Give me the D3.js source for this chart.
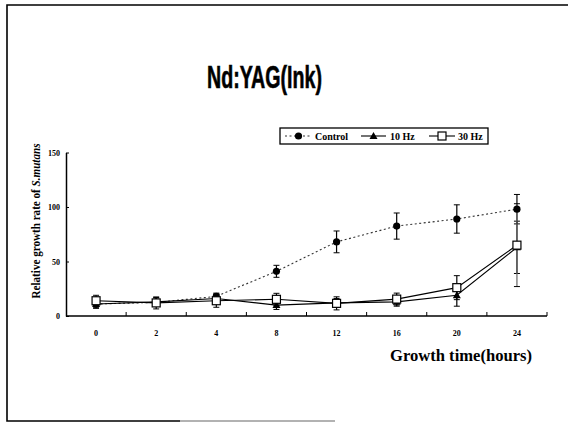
<!DOCTYPE html>
<html>
<head>
<meta charset="utf-8">
<script src="https://cdn.jsdelivr.net/npm/d3@7"></script>
<style>
  html, body { margin: 0; padding: 0; background: #fff; }
  svg { display: block; }
</style>
</head>
<body>
<svg id="chart" width="568" height="423"></svg>
<script>
// Sampling times (hours) along the x axis
const hours = ["0", "2", "4", "8", "12", "16", "20", "24"];
const yTicks = [0, 50, 100, 150];

// Relative growth rate of S. mutans, mean and error per time point
const control    = [11, 12.5, 18, 41, 68, 82.5, 89, 98];
const controlErr = [3, 3, 3, 5.5, 10, 12, 13, 13.5];
const hz10       = [11, 13, 16, 10, 12, 13, 19, 63];
const hz10Err    = [4, 4, 4, 4, 4, 4, 10, 24];
const hz30       = [14, 12, 14, 15.3, 11.6, 15.5, 26, 65];
const hz30Err    = [5, 5.5, 6, 5.5, 6, 5.5, 11, 38];

const seriesNames = ["Control", "10 Hz", "30 Hz"];

const svg = d3.select("#chart");
const serif = "'Liberation Serif', 'Times New Roman', serif";

// Page frame
svg.append("path")
  .attr("d", "M568,5 H7 V421 H180")
  .attr("fill", "none").attr("stroke", "#000").attr("stroke-width", 1.6);
svg.append("line")
  .attr("x1", 180).attr("x2", 335).attr("y1", 421).attr("y2", 421)
  .attr("stroke", "#999").attr("stroke-width", 1.4);

// Title, condensed to a fixed width
const title = svg.append("text")
  .attr("x", 0).attr("y", 0)
  .attr("font-family", "'Liberation Sans Narrow', 'Liberation Sans', Arial, sans-serif")
  .attr("font-weight", "bold").attr("font-size", 31)
  .attr("stroke", "#000").attr("stroke-width", 0.6)
  .text("Nd:YAG(Ink)");
const tw = title.node().getComputedTextLength();
title.attr("transform", `translate(207,88) scale(${115 / tw},1)`);

// Scales
const x = d3.scaleBand().domain(hours).range([66, 547]);
const y = d3.scaleLinear().domain([0, 150]).range([316, 152.5]);
const cx = h => x(h) + x.bandwidth() / 2;

// Y axis
const yAxis = svg.append("g")
  .attr("transform", "translate(66,0)")
  .call(d3.axisLeft(y).tickValues(yTicks).tickSizeInner(-3).tickSizeOuter(0).tickPadding(6));
yAxis.select(".domain").attr("stroke-width", 1.5);
yAxis.selectAll("text")
  .attr("font-family", serif).attr("font-weight", "bold").attr("font-size", 8);

// X axis: ticks at band boundaries pointing into the plot
const xAxisG = svg.append("g").attr("transform", "translate(0,316)");
xAxisG.append("line")
  .attr("x1", 66).attr("x2", 547).attr("y1", 0).attr("y2", 0)
  .attr("stroke", "#000").attr("stroke-width", 1.5);
const bounds = hours.slice(1).map(h => x(h)).concat([547]);
xAxisG.selectAll("line.tk").data(bounds).join("line")
  .attr("class", "tk")
  .attr("x1", d => d).attr("x2", d => d).attr("y1", 0).attr("y2", -4)
  .attr("stroke", "#000").attr("stroke-width", 1);
xAxisG.selectAll("text").data(hours).join("text")
  .attr("x", d => cx(d)).attr("y", 20)
  .attr("text-anchor", "middle")
  .attr("font-family", serif).attr("font-weight", "bold").attr("font-size", 8)
  .text(d => d);

// Axis titles
svg.append("text")
  .attr("x", 461).attr("y", 361)
  .attr("text-anchor", "middle")
  .attr("font-family", serif).attr("font-weight", "bold").attr("font-size", 16)
  .attr("textLength", 142).attr("lengthAdjust", "spacingAndGlyphs")
  .text("Growth time(hours)");

const yl = svg.append("text")
  .attr("transform", "translate(40,221) rotate(-90)")
  .attr("text-anchor", "middle")
  .attr("font-family", serif).attr("font-weight", "bold").attr("font-size", 11.5)
  .attr("textLength", 155).attr("lengthAdjust", "spacingAndGlyphs");
yl.append("tspan").text("Relative growth rate of ");
yl.append("tspan").attr("font-style", "italic").text("S.mutans");

// Series definitions
const series = [
  { name: seriesNames[0], vals: control, errs: controlErr, dash: "2,2.5", color: "#333", marker: "circle" },
  { name: seriesNames[1], vals: hz10, errs: hz10Err, dash: null, color: "#000", marker: "triangle" },
  { name: seriesNames[2], vals: hz30, errs: hz30Err, dash: null, color: "#000", marker: "square" }
];

function drawMarker(g, type, px, py) {
  if (type === "circle") {
    g.append("circle").attr("cx", px).attr("cy", py).attr("r", 3.6).attr("fill", "#000");
  } else if (type === "triangle") {
    g.append("path")
      .attr("d", `M${px},${py - 4} L${px + 4},${py + 3} L${px - 4},${py + 3} Z`)
      .attr("fill", "#000");
  } else {
    g.append("rect").attr("x", px - 4).attr("y", py - 4).attr("width", 8).attr("height", 8)
      .attr("fill", "#fff").attr("stroke", "#000").attr("stroke-width", 1.2);
  }
}

const line = d3.line().x(d => cx(d.h)).y(d => y(d.v));
const plot = svg.append("g");

// Error bars first, then lines, then markers
series.forEach(s => {
  const g = plot.append("g");
  hours.forEach((h, i) => {
    const v = s.vals[i], e = s.errs[i];
    const px = cx(h);
    g.append("line").attr("x1", px).attr("x2", px)
      .attr("y1", y(v + e)).attr("y2", y(v - e))
      .attr("stroke", s.marker === "square" && i === 7 ? "#666" : "#000").attr("stroke-width", 1.2);
    [v + e, v - e].forEach(t => {
      g.append("line").attr("x1", px - 3).attr("x2", px + 3)
        .attr("y1", y(t)).attr("y2", y(t))
        .attr("stroke", "#000").attr("stroke-width", 1);
    });
  });
});

series.forEach(s => {
  const pts = hours.map((h, i) => ({ h, v: s.vals[i] }));
  plot.append("path").datum(pts)
    .attr("d", line)
    .attr("fill", "none")
    .attr("stroke", s.color)
    .attr("stroke-width", 1.1)
    .attr("stroke-dasharray", s.dash);
});

series.forEach(s => {
  const g = plot.append("g");
  hours.forEach((h, i) => drawMarker(g, s.marker, cx(h), y(s.vals[i])));
});

// Legend
const lg = svg.append("g");
lg.append("rect").attr("x", 280).attr("y", 128).attr("width", 208).attr("height", 16)
  .attr("fill", "#fff").attr("stroke", "#000").attr("stroke-width", 1.3);
const legendItems = [
  { s: series[0], x1: 285, x2: 312, tx: 315 },
  { s: series[1], x1: 361, x2: 386, tx: 390 },
  { s: series[2], x1: 429, x2: 455, tx: 458 }
];
legendItems.forEach(it => {
  lg.append("line").attr("x1", it.x1).attr("x2", it.x2).attr("y1", 136).attr("y2", 136)
    .attr("stroke", it.s.color).attr("stroke-width", 1.1).attr("stroke-dasharray", it.s.dash);
  drawMarker(lg, it.s.marker, (it.x1 + it.x2) / 2, 136);
  lg.append("text").attr("x", it.tx).attr("y", 139.5)
    .attr("font-family", serif).attr("font-weight", "bold").attr("font-size", 10)
    .text(it.s.name);
});
</script>
</body>
</html>
